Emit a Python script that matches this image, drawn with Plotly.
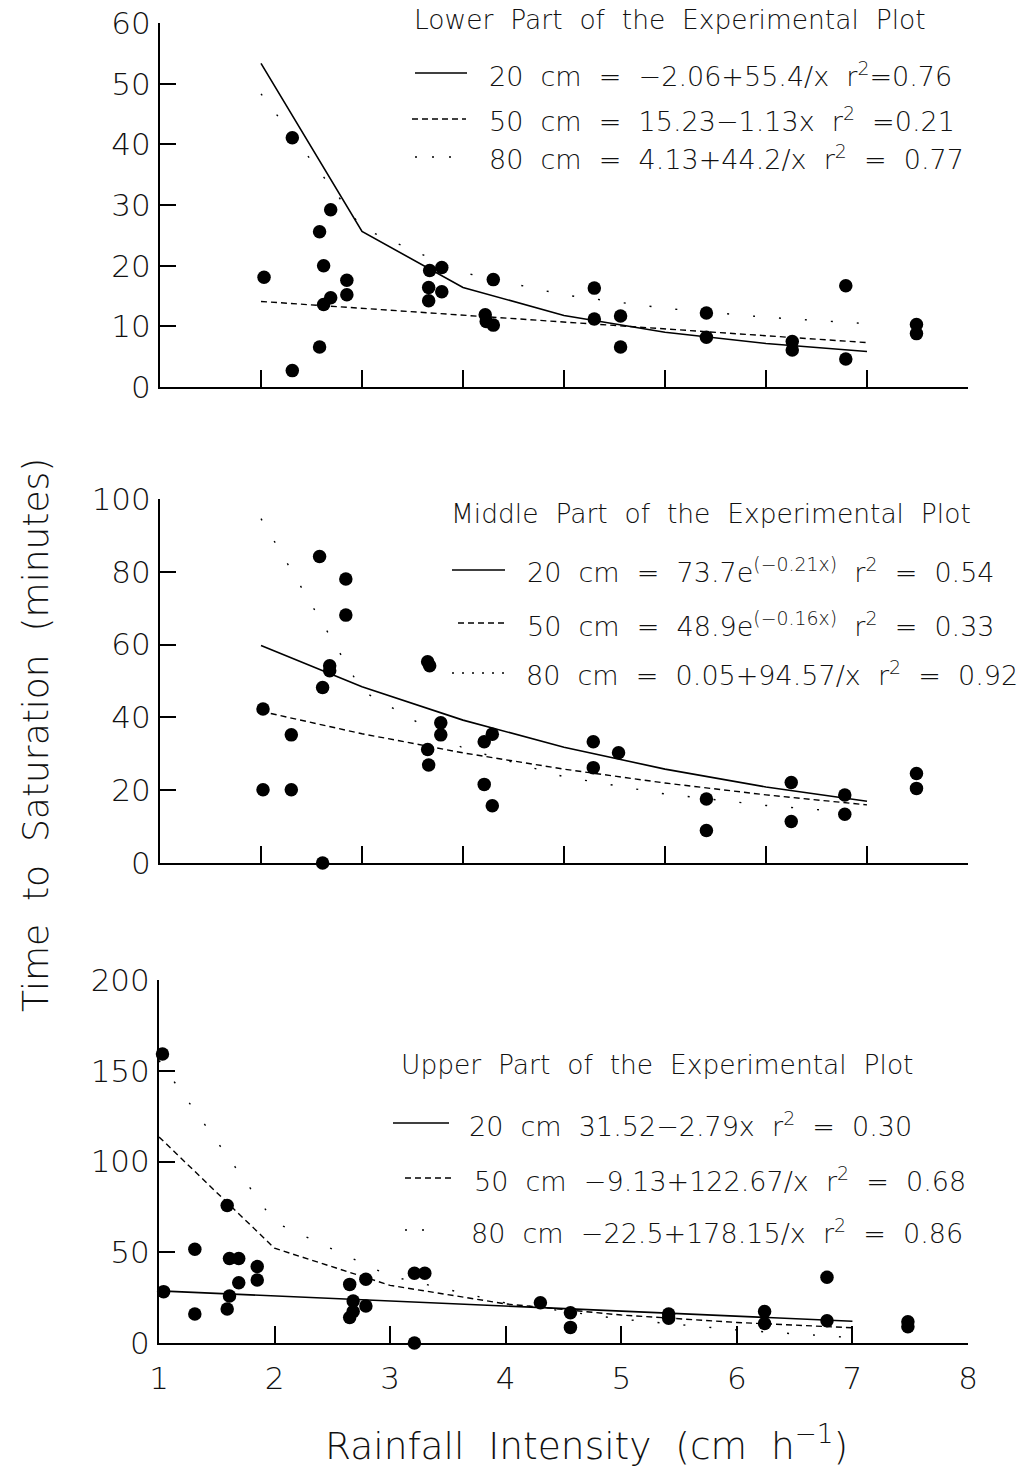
import plotly.graph_objects as go

# ---------------- data ----------------
# Lower part of the experimental plot (top panel)
lower_x = [1.03, 1.31, 1.31, 1.58, 1.62, 1.69, 1.58, 1.62, 1.69, 1.85, 1.85, 2.67, 2.79, 2.66, 2.79, 2.66,
           3.30, 3.22, 3.23, 3.30, 4.30, 4.30, 4.56, 4.56, 5.41, 5.41, 6.26, 6.26, 6.79, 6.79, 7.49, 7.49]
lower_y = [18.1, 41.1, 2.7, 25.6, 20.0, 29.2, 6.6, 13.6, 14.7, 17.6, 15.2, 19.2, 19.7, 16.4, 15.7, 14.2,
           17.7, 11.9, 10.8, 10.2, 16.3, 11.2, 11.7, 6.6, 12.2, 8.2, 7.5, 6.1, 16.7, 4.6, 10.3, 8.8]

# Middle part (middle panel)
middle_x = [1.02, 1.02, 1.30, 1.30, 1.58, 1.61, 1.68, 1.68, 1.61, 1.84, 1.84, 2.65, 2.67, 2.78, 2.78, 2.65,
            2.66, 3.21, 3.29, 3.21, 3.29, 4.29, 4.29, 4.54, 5.41, 5.41, 6.25, 6.25, 6.78, 6.78, 7.49, 7.49]
middle_y = [42.3, 20.1, 35.2, 20.1, 84.2, 48.2, 54.2, 52.8, 0.0, 78.0, 68.1, 55.3, 54.2, 38.5, 35.2, 31.2,
            26.9, 33.3, 35.4, 21.6, 15.7, 33.3, 26.2, 30.3, 17.6, 8.9, 22.1, 11.4, 18.7, 13.4, 24.6, 20.5]

# Upper part (bottom panel)
upper_x = [1.03, 1.04, 1.31, 1.31, 1.59, 1.61, 1.69, 1.69, 1.61, 1.59, 1.85, 1.85, 2.65, 2.79, 2.68, 2.68,
           2.65, 2.79, 3.21, 3.30, 3.21, 4.30, 4.56, 4.56, 5.41, 5.41, 6.24, 6.24, 6.78, 6.78, 7.48, 7.48]
upper_y = [159.2, 28.3, 51.6, 16.0, 75.7, 46.6, 46.6, 33.2, 25.9, 18.7, 42.1, 34.7, 32.3, 35.1, 23.1, 17.3,
           14.1, 20.4, 38.4, 38.4, 0.0, 22.2, 16.7, 8.6, 16.0, 13.6, 17.3, 10.8, 36.2, 12.3, 11.7, 9.0]

# fitted curves, values at x = 1..7
curve_x = [1, 2, 3, 4, 5, 6, 7]
lower_20 = [53.34, 25.64, 16.41, 11.79, 9.02, 7.17, 5.85]
lower_50 = [14.10, 12.97, 11.84, 10.71, 9.58, 8.45, 7.32]
lower_80 = [48.33, 26.23, 18.86, 15.18, 12.97, 11.50, 10.44]
middle_20 = [59.74, 48.42, 39.25, 31.82, 25.79, 20.90, 16.95]
middle_50 = [41.67, 35.51, 30.26, 25.78, 21.97, 18.72, 15.96]
middle_80 = [94.62, 47.34, 31.57, 23.69, 18.96, 15.81, 13.56]
upper_20 = [28.73, 25.94, 23.15, 20.36, 17.57, 14.78, 11.99]
upper_50 = [113.54, 52.21, 31.76, 21.54, 15.40, 11.32, 8.39]
upper_80 = [155.65, 66.58, 36.88, 22.04, 13.13, 7.19, 2.95]

# axis ticks
top_xticks = [1, 2, 3, 4, 5, 6, 7, 8]
bottom_xticks = [1, 2, 3, 4, 5, 6, 7, 8]
lower_yticks = [0, 10, 20, 30, 40, 50, 60]
middle_yticks = [0, 20, 40, 60, 80, 100]
upper_yticks = [0, 50, 100, 150, 200]

# texts
S = " \u00a0"
titles = ["Lower" + S + "Part" + S + "of" + S + "the" + S + "Experimental" + S + "Plot",
          "Middle" + S + "Part" + S + "of" + S + "the" + S + "Experimental" + S + "Plot",
          "Upper" + S + "Part" + S + "of" + S + "the" + S + "Experimental" + S + "Plot"]
lower_eq = ["20" + S + "cm" + S + "=" + S + "\u22122.06+55.4/x" + S + "r<sup>2</sup>=0.76",
            "50" + S + "cm" + S + "=" + S + "15.23\u22121.13x" + S + "r<sup>2</sup>" + S + "=0.21",
            "80" + S + "cm" + S + "=" + S + "4.13+44.2/x" + S + "r<sup>2</sup>" + S + "=" + S + "0.77"]
middle_eq = ["20" + S + "cm" + S + "=" + S + "73.7e<sup>(\u22120.21x)</sup>" + S + "r<sup>2</sup>" + S + "=" + S + "0.54",
             "50" + S + "cm" + S + "=" + S + "48.9e<sup>(\u22120.16x)</sup>" + S + "r<sup>2</sup>" + S + "=" + S + "0.33",
             "80" + S + "cm" + S + "=" + S + "0.05+94.57/x" + S + "r<sup>2</sup>" + S + "=" + S + "0.92"]
upper_eq = ["20" + S + "cm" + S + "31.52\u22122.79x" + S + "r<sup>2</sup>" + S + "=" + S + "0.30",
            "50" + S + "cm" + S + "\u22129.13+122.67/x" + S + "r<sup>2</sup>" + S + "=" + S + "0.68",
            "80" + S + "cm" + S + "\u221222.5+178.15/x" + S + "r<sup>2</sup>" + S + "=" + S + "0.86"]
ytitle = "Time" + S + "to" + S + "Saturation" + S + "(minutes)"
xtitle = "Rainfall" + S + "Intensity" + S + "(cm" + S + "h<sup>\u22121</sup>)"

# ---------------- layout helpers ----------------
W, H = 1021, 1468
FONT = "DejaVu Sans"
WEIGHT = 300
def PX(x):
    return x / W
def PY(y):
    return 1 - y / H

fig = go.Figure()

SOLID = dict(color="black", width=1.6)
DASHED = dict(color="black", width=1.4, dash="6px,4px")
SPARSE = dict(color="black", width=1.4, dash="2px,24px")

panels = [
    ("x", "y", lower_x, lower_y, lower_20, lower_50, lower_80),
    ("x2", "y2", middle_x, middle_y, middle_20, middle_50, middle_80),
    ("x3", "y3", upper_x, upper_y, upper_20, upper_50, upper_80),
]
for xa, ya, px_, py_, c20, c50, c80 in panels:
    fig.add_trace(go.Scatter(x=curve_x, y=c80, mode="lines", line=SPARSE, xaxis=xa, yaxis=ya,
                             showlegend=False, hoverinfo="skip"))
    fig.add_trace(go.Scatter(x=curve_x, y=c50, mode="lines", line=DASHED, xaxis=xa, yaxis=ya,
                             showlegend=False, hoverinfo="skip"))
    fig.add_trace(go.Scatter(x=curve_x, y=c20, mode="lines", line=SOLID, xaxis=xa, yaxis=ya,
                             showlegend=False, hoverinfo="skip"))
    fig.add_trace(go.Scatter(x=px_, y=py_, mode="markers", xaxis=xa, yaxis=ya, cliponaxis=False,
                             marker=dict(size=13.5, color="black", line=dict(width=0)),
                             showlegend=False))

tickfont = dict(family=FONT, size=31, color="#111", weight=WEIGHT)

def xaxis(domain, rng, tickvals, labels):
    return dict(domain=domain, range=rng, tickmode="array", tickvals=tickvals,
                showticklabels=labels, ticks="inside", ticklen=17, tickwidth=1.5, tickcolor="black",
                showline=True, linecolor="black", linewidth=2, showgrid=False, zeroline=False,
                tickfont=tickfont, ticklabelstandoff=7, automargin=False, fixedrange=True)

def yaxis(domain, rng, tickvals, anchor):
    return dict(domain=domain, range=rng, tickmode="array", tickvals=tickvals,
                ticks="inside", ticklen=16, tickwidth=1.5, tickcolor="black",
                showline=True, linecolor="black", linewidth=2, showgrid=False, zeroline=False,
                tickfont=tickfont, ticklabelstandoff=1, anchor=anchor, automargin=False,
                fixedrange=True)

fig.update_layout(
    width=W, height=H, autosize=False,
    margin=dict(l=0, r=0, t=0, b=0, pad=0),
    paper_bgcolor="white", plot_bgcolor="white",
    font=dict(family=FONT, color="#111"),
    xaxis=xaxis([PX(160), PX(968)], [0, 8], top_xticks, False) | dict(anchor="y"),
    yaxis=yaxis([PY(387), PY(23)], [0, 60], lower_yticks, "x"),
    xaxis2=xaxis([PX(160), PX(968)], [0, 8], top_xticks, False) | dict(anchor="y2"),
    yaxis2=yaxis([PY(863), PY(499)], [0, 100], middle_yticks, "x2"),
    xaxis3=xaxis([PX(159), PX(968)], [1, 8], bottom_xticks, True) | dict(anchor="y3"),
    yaxis3=yaxis([PY(1343), PY(980)], [0, 200], upper_yticks, "x3"),
)

annots = []
shapes = []
def text(x, y, t, size=27, **kw):
    annots.append(dict(x=PX(x), y=PY(y), xref="paper", yref="paper", text=t, showarrow=False,
                       xanchor=kw.get("xanchor", "left"), yanchor=kw.get("yanchor", "middle"),
                       textangle=kw.get("textangle", 0),
                       font=dict(family=FONT, size=size, color="#111", weight=WEIGHT)))
def sample(x0, x1, y, line):
    shapes.append(dict(type="line", xref="paper", yref="paper", x0=PX(x0), x1=PX(x1),
                       y0=PY(y), y1=PY(y), line=line))

TS = 26.5
# top panel legend
text(412, 20, titles[0], size=TS)
sample(415, 467, 73, SOLID); text(487, 74, lower_eq[0])
sample(412, 466, 119, DASHED); text(487, 120, lower_eq[1])
sample(415, 452, 157, dict(color="black", width=1.5, dash="2px,15px")); text(487, 158, lower_eq[2])
# middle
text(449, 513, titles[1], size=TS)
sample(452, 505, 570, SOLID); text(525, 571, middle_eq[0])
sample(458, 505, 623, DASHED); text(525, 624, middle_eq[1])
sample(452, 505, 673, dict(color="black", width=1.5, dash="2px,8px")); text(524, 674, middle_eq[2])
# bottom
text(399, 1064, titles[2], size=TS)
sample(393, 449, 1123, SOLID); text(467, 1124, upper_eq[0])
sample(405, 455, 1178, DASHED); text(472, 1179, upper_eq[1])
sample(405, 437, 1230, dict(color="black", width=1.5, dash="2px,15px")); text(469, 1231, upper_eq[2])

# axis titles
text(35, 735, ytitle, size=36, xanchor="center", textangle=-90)
text(586, 1443, xtitle, size=37.5, xanchor="center")

fig.update_layout(annotations=annots, shapes=shapes)

fig.write_html("out.html", config={"displayModeBar": False},
               post_script="document.body.style.margin='0';")
